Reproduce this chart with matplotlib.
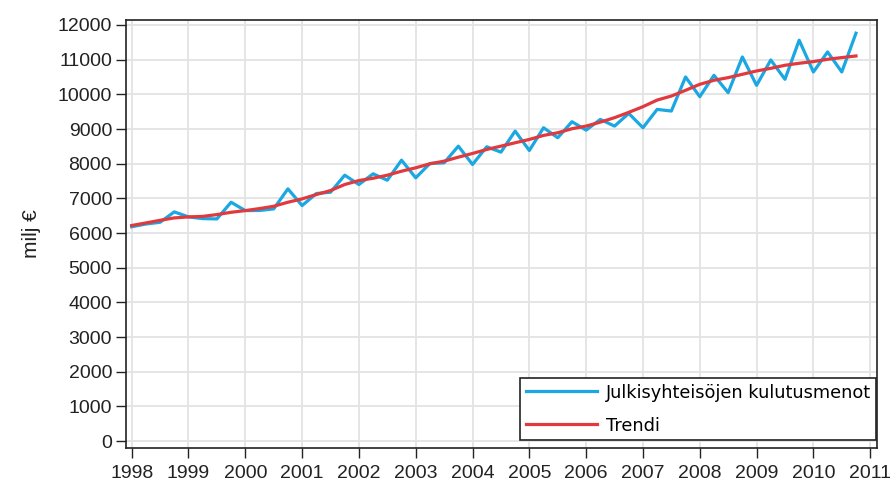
import matplotlib
matplotlib.use("Agg")
import matplotlib.pyplot as plt

plt.rcParams['font.family'] = ['Liberation Sans', 'DejaVu Sans']

years = list(range(1998, 2011))
quarters = [y + q / 4 for y in years for q in range(4)]

kulutusmenot = [
    6180, 6260, 6310, 6610,
    6465, 6416, 6407, 6888,
    6647, 6650, 6696, 7274,
    6792, 7139, 7177, 7668,
    7399, 7708, 7523, 8101,
    7592, 8006, 8025, 8506,
    7977, 8488, 8333, 8940,
    8381, 9037, 8748, 9210,
    8968, 9277, 9084, 9450,
    9037, 9566, 9518, 10501,
    9933, 10549, 10049, 11078,
    10260, 10991, 10434, 11561,
    10645, 11223, 10645, 11763,
]

trendi = [
    6217, 6291, 6367, 6436,
    6465, 6480, 6532, 6598,
    6647, 6705, 6772, 6888,
    6985, 7110, 7225, 7399,
    7514, 7580, 7668, 7783,
    7881, 7997, 8073, 8188,
    8295, 8410, 8506, 8603,
    8699, 8815, 8892, 9008,
    9084, 9199, 9327, 9480,
    9644, 9835, 9951, 10116,
    10289, 10405, 10482, 10578,
    10674, 10751, 10838, 10896,
    10945, 11011, 11060, 11107,
]

xticks = list(range(1998, 2012))
yticks = list(range(0, 12001, 1000))

fig = plt.figure(figsize=(8.92, 4.86), dpi=100)
ax = fig.add_axes([126 / 892, 1 - 448 / 486, 751 / 892, 428 / 486])

ax.plot(quarters, kulutusmenot, color='#1aa7e2', lw=2.3,
        label='Julkisyhteisöjen kulutusmenot', zorder=3)
ax.plot(quarters, trendi, color='#e0393e', lw=2.3, label='Trendi', zorder=4)

ax.set_xlim(1997.9, 2011.12)
ax.set_ylim(-200, 12144)
ax.set_xticks(xticks)
ax.set_yticks(yticks)
ax.grid(True, color='#e3e3e3', lw=1.3)
ax.set_axisbelow(True)

for s in ax.spines.values():
    s.set_color('#222222')
    s.set_linewidth(1.2)

ax.tick_params(axis='y', length=7, width=1, labelsize=14, pad=3, colors='#222222')
ax.tick_params(axis='x', length=7, width=1, labelsize=14, pad=5, colors='#222222')
ax.set_ylabel('milj €', fontsize=15, labelpad=12, color='#222222')

leg = ax.legend(loc='lower right', bbox_to_anchor=(0.9987, 0.0187),
                frameon=True, fancybox=False,
                prop={'family': ['DejaVu Sans'], 'size': 12.8},
                handlelength=4.0, handletextpad=0.5,
                borderpad=0.3, labelspacing=0.85, borderaxespad=0)
leg.get_frame().set_edgecolor('#222222')
leg.get_frame().set_linewidth(1.2)
leg.get_frame().set_alpha(1)

fig.savefig('out.png', dpi=100)
